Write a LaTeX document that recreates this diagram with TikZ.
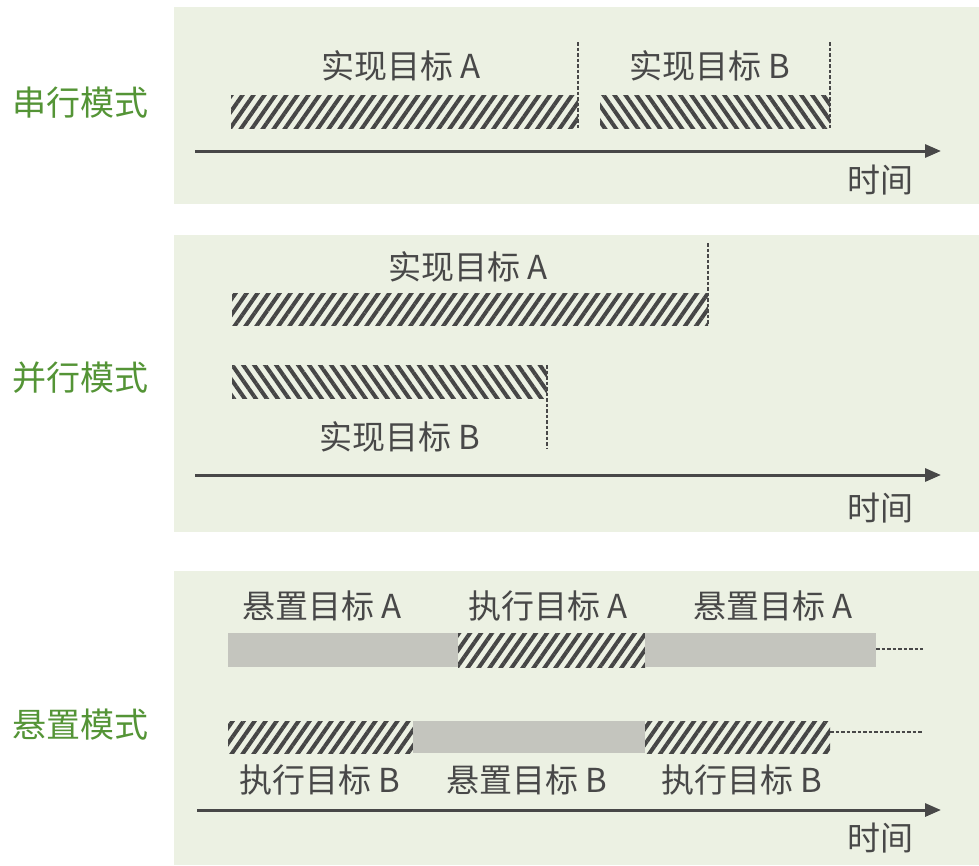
\documentclass[tikz,border=0pt]{standalone}
\usepackage{fontspec}
\setmainfont{Noto Sans CJK SC}
\usetikzlibrary{patterns.meta,arrows.meta}
\definecolor{panelbg}{RGB}{236,241,227}
\definecolor{greenlab}{RGB}{84,148,54}
\definecolor{inkgray}{RGB}{72,72,72}
\definecolor{hatchgray}{RGB}{70,70,70}
\definecolor{suspgray}{RGB}{196,197,190}
\begin{document}
\begin{tikzpicture}[x=1pt,y=-1pt,
 panel/.style={fill=panelbg},
 modelab/.style={text=greenlab, font=\fontsize{34}{38}\selectfont, anchor=west, inner sep=0pt},
 lab/.style={text=inkgray, font=\fontsize{33}{36}\selectfont, inner sep=0pt},
 hatchR/.style={pattern={Lines[angle=55,distance=9pt,line width=4pt]}, pattern color=hatchgray},
 hatchL/.style={pattern={Lines[angle=-55,distance=9pt,line width=4pt]}, pattern color=hatchgray},
 susp/.style={fill=suspgray},
 endline/.style={draw=inkgray, line width=2.3pt, dash pattern=on 3.5pt off 2pt},
 axis/.style={draw=inkgray, line width=3pt, -{Triangle[length=16pt,width=13pt]}},
]
\useasboundingbox (0,0) rectangle (979,865);
\fill[white] (0,0) rectangle (979,865);
% panels
\fill[panel] (174,7) rectangle (979,204);
\fill[panel] (174,235) rectangle (979,532);
\fill[panel] (174,571) rectangle (979,865);
% mode labels
\node[modelab] (m1) at (12,103) {串行模式};
\node[modelab] (m2) at (12,378) {并行模式};
\node[modelab] (m3) at (12,725) {悬置模式};

% ---- panel 1: serial
\fill[hatchR] (231,95) rectangle (578,128);
\fill[hatchL] (600,95) rectangle (830,128);
\coordinate (d1at) at (578,42); \coordinate (d1ab) at (578,128);
\coordinate (d1bt) at (830,42); \coordinate (d1bb) at (830,128);
\draw[endline] (d1at) -- (d1ab);
\draw[endline] (d1bt) -- (d1bb);
\node[lab] (l1a) at (401,66) {实现目标 A};
\node[lab] (l1b) at (710,66) {实现目标 B};
\coordinate (ax1s) at (195,151); \coordinate (ax1e) at (941,151);
\draw[axis] (ax1s) -- (ax1e);
\node[lab] (t1) at (880,180) {时间};

% ---- panel 2: parallel
\fill[hatchR] (232,293) rectangle (708,325);
\fill[hatchL] (232,365) rectangle (547,398);
\coordinate (d2at) at (708,243); \coordinate (d2ab) at (708,325);
\coordinate (d2bt) at (547,365); \coordinate (d2bb) at (547,448);
\draw[endline] (d2at) -- (d2ab);
\draw[endline] (d2bt) -- (d2bb);
\node[lab] (l2a) at (468,267) {实现目标 A};
\node[lab] (l2b) at (400,437) {实现目标 B};
\coordinate (ax2s) at (195,475); \coordinate (ax2e) at (941,475);
\draw[axis] (ax2s) -- (ax2e);
\node[lab] (t2) at (880,508) {时间};

% ---- panel 3: suspended
\fill[susp] (228,633) rectangle (458,667);
\fill[hatchR] (458,633) rectangle (645,667);
\fill[susp] (645,633) rectangle (876,667);
\coordinate (d3as) at (876,649); \coordinate (d3ae) at (923,649);
\draw[endline] (d3as) -- (d3ae);
\fill[hatchR] (228,721) rectangle (413,753);
\fill[susp] (413,721) rectangle (645,753);
\fill[hatchR] (645,721) rectangle (830,753);
\coordinate (d3bs) at (830,732); \coordinate (d3be) at (923,732);
\draw[endline] (d3bs) -- (d3be);
\node[lab] (l3a1) at (322,606) {悬置目标 A};
\node[lab] (l3a2) at (548,606) {执行目标 A};
\node[lab] (l3a3) at (773,606) {悬置目标 A};
\node[lab] (l3b1) at (320,780) {执行目标 B};
\node[lab] (l3b2) at (527,780) {悬置目标 B};
\node[lab] (l3b3) at (742,780) {执行目标 B};
\coordinate (ax3s) at (197,810); \coordinate (ax3e) at (941,810);
\draw[axis] (ax3s) -- (ax3e);
\node[lab] (t3) at (880,838) {时间};
\end{tikzpicture}
\end{document}
